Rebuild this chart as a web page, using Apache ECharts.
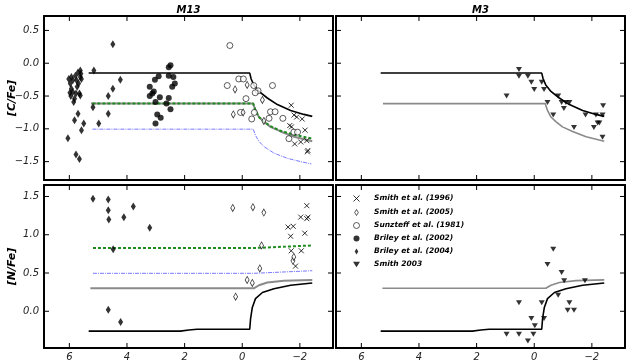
<!DOCTYPE html>
<html><head><meta charset="utf-8">
<script src="https://cdn.jsdelivr.net/npm/echarts@6/dist/echarts.min.js"></script>
<style>html,body{margin:0;padding:0;background:#fff}#c{width:631px;height:364px}</style>
</head><body><div id="c"></div>
<script>
// ---- tick values ----
const xTicks = [6, 4, 2, 0, -2];
const cTicks = [0.5, 0, -0.5, -1, -1.5];
const nTicks = [1.5, 1, 0.5, 0];
const panelTitles = ['M13', 'M3'];
const legendNames = ['Smith et al. (1996)', 'Smith et al. (2005)', 'Sunzteff et al. (1981)', 'Briley et al. (2002)', 'Briley et al. (2004)', 'Smith 2003'];

// ---- M13 [C/Fe] observations ----
const briley2004C = [[6.05,-1.145],[6.02,-0.24],[5.93,-0.21],[5.88,-0.26],[5.97,-0.31],[5.79,-0.19],[5.70,-0.14],[5.62,-0.11],[5.62,-0.21],[5.58,-0.24],[5.68,-0.31],[5.73,-0.36],[5.93,-0.39],[5.88,-0.44],[5.77,-0.46],[5.82,-0.54],[5.85,-0.59],[5.65,-0.46],[5.62,-0.49],[5.70,-0.77],[5.82,-0.87],[5.50,-0.92],[5.58,-1.02],[5.77,-1.39],[5.65,-1.46],[5.98,-0.45],[5.60,-0.16],[5.75,-0.26],[5.95,-0.50],[5.15,-0.11],[5.18,-0.67],[4.65,-0.50],[4.65,-0.77],[4.98,-0.92],[4.49,0.29],[4.23,-0.25],[4.49,-0.39]];
const briley2002C = [[2.55,-0.06],[2.49,-0.03],[2.90,-0.20],[3.03,-0.25],[2.55,-0.19],[2.39,-0.21],[2.34,-0.31],[2.43,-0.36],[3.21,-0.36],[3.07,-0.43],[3.12,-0.46],[3.21,-0.50],[2.86,-0.52],[3.01,-0.59],[2.55,-0.53],[2.63,-0.615],[2.49,-0.70],[2.95,-0.78],[2.83,-0.83],[3.01,-0.92]];
const sunzteffC = [[0.43,0.27],[0.12,-0.24],[-0.04,-0.24],[0.52,-0.34],[-0.40,-0.34],[-0.55,-0.42],[-1.05,-0.34],[-0.13,-0.54],[0.06,-0.75],[-0.42,-0.75],[-0.98,-0.74],[-1.14,-0.74],[-0.33,-0.85],[-0.93,-0.84],[-1.41,-0.84],[-1.79,-1.05],[-1.92,-1.05],[-1.62,-1.15],[-0.45,-0.45]];
const smith2005C = [[0.25,-0.40],[0.31,-0.78],[-0.17,-0.33],[-0.70,-0.56],[-0.75,-0.88],[-0.03,-0.75]];
const smith1996C = [[-1.70,-0.64],[-1.80,-0.79],[-1.89,-0.82],[-2.08,-0.85],[-1.65,-0.95],[-1.71,-0.97],[-2.18,-1.02],[-2.03,-1.20],[-1.82,-1.23],[-2.24,-1.18],[-2.26,-1.35],[-2.28,-1.33]];

// ---- M13 [N/Fe] observations ----
const briley2004N = [[5.18,1.47],[4.65,1.46],[4.65,1.32],[4.63,1.20],[4.11,1.23],[3.78,1.37],[3.21,1.09],[4.48,0.81],[4.65,0.02],[4.22,-0.14]];
const smith2005N = [[0.33,1.35],[-0.37,1.36],[-0.75,1.29],[-0.67,0.86],[-0.61,0.56],[-0.17,0.41],[-0.35,0.37],[0.23,0.19],[-1.76,0.66],[-1.79,0.71]];
const smith1996N = [[-2.24,1.38],[-2.03,1.23],[-2.24,1.21],[-2.28,1.23],[-1.59,1.10],[-1.77,1.11],[-1.68,0.98],[-2.17,1.02],[-1.70,0.79],[-2.05,0.79],[-1.85,0.59]];

// ---- M3 observations (Smith 2003) ----
const smith2003C = [[0.53,-0.095],[0.53,-0.20],[0.22,-0.20],[0.10,-0.29],[0.0,-0.40],[-0.26,-0.29],[-0.34,-0.40],[0.96,-0.50],[-0.46,-0.60],[-0.83,-0.50],[-0.66,-0.79],[-0.95,-0.60],[-1.03,-0.69],[-1.10,-0.60],[-1.22,-0.60],[-1.38,-0.98],[-1.78,-0.79],[-2.07,-0.98],[-2.14,-0.79],[-2.20,-0.91],[-2.26,-0.91],[-2.37,-0.79],[-2.39,-0.65],[-2.37,-1.13]];
const smith2003N = [[-0.66,0.81],[-0.46,0.61],[-0.95,0.505],[-1.04,0.40],[-1.76,0.40],[-0.83,0.21],[-0.26,0.11],[0.53,0.11],[-1.22,0.11],[-1.16,0.013],[-1.38,0.013],[0.10,-0.095],[-0.02,-0.19],[-0.34,-0.095],[0.96,-0.30],[0.53,-0.30],[0.03,-0.30],[0.22,-0.39]];

// ---- model curves ----
const modelCBlack = [[5.33,-0.15],[-0.26,-0.15],[-0.31,-0.24],[-0.40,-0.33],[-0.58,-0.43],[-0.87,-0.53],[-1.22,-0.63],[-1.68,-0.72],[-2.14,-0.78],[-2.43,-0.81]];
const modelCGray = [[5.25,-0.615],[-0.38,-0.615],[-0.46,-0.72],[-0.58,-0.82],[-0.75,-0.89],[-0.98,-0.97],[-1.33,-1.04],[-1.80,-1.12],[-2.43,-1.19]];
const modelCGreen = [[5.2,-0.615],[-0.38,-0.615],[-0.46,-0.72],[-0.58,-0.82],[-0.75,-0.89],[-0.98,-0.96],[-1.33,-1.03],[-1.80,-1.09],[-2.43,-1.15]];
const modelCBlue = [[5.2,-1.005],[-0.38,-1.005],[-0.46,-1.10],[-0.58,-1.19],[-0.75,-1.27],[-1.10,-1.37],[-1.57,-1.45],[-2.03,-1.50],[-2.40,-1.535]];
const modelNBlack = [[5.33,-0.26],[2.15,-0.26],[1.85,-0.245],[1.57,-0.235],[-0.26,-0.235],[-0.29,-0.095],[-0.35,0.05],[-0.46,0.165],[-0.70,0.245],[-1.10,0.295],[-1.68,0.34],[-2.43,0.37]];
const modelNGray = [[5.27,0.30],[-0.40,0.30],[-0.58,0.34],[-0.87,0.375],[-1.45,0.40],[-2.43,0.41]];
const modelNGreen = [[5.18,0.826],[-0.40,0.826],[-2.43,0.86]];
const modelNBlue = [[5.18,0.496],[-0.40,0.496],[-2.43,0.53]];

// ---- build ----
const FONT = 'DejaVu Sans';
const fmt = v => { const s = Math.abs(v) < 1e-9 ? '0' : String(v); return s.replace('-', '\u2212'); };
const fmt1 = v => { const s = (Math.abs(v) < 1e-9 ? 0 : v).toFixed(1); return s.replace('-', '\u2212'); };
const XMIN = -3.15, XMAX = 6.88;

const gridBoxes = [
  {left: 44, top: 16, width: 289, height: 164},
  {left: 336, top: 16, width: 289, height: 164},
  {left: 44, top: 185, width: 289, height: 163},
  {left: 336, top: 185, width: 289, height: 163}
];
const grids = gridBoxes.map(g => Object.assign({show: false}, g));

const boxLine = {show: true, onZero: false, lineStyle: {color: '#000', width: 2}};
const xAxes = [], yAxes = [], yRanges = [];
for (let i = 0; i < 4; i++) {
  const bottomRow = i >= 2, leftCol = i % 2 === 0;
  xAxes.push({type: 'value', gridIndex: i, position: 'bottom', inverse: true, min: XMIN, max: XMAX,
    axisLine: boxLine, splitLine: {show: false}, axisTick: {show: false},
    axisLabel: {show: bottomRow, customValues: xTicks, formatter: fmt, margin: 4, color: '#222', fontFamily: FONT, fontStyle: 'italic', fontSize: 10}});
  xAxes.push({type: 'value', gridIndex: i, position: 'top', inverse: true, min: XMIN, max: XMAX,
    name: bottomRow ? '' : panelTitles[i], nameLocation: 'middle', nameGap: 1,
    nameTextStyle: {fontFamily: FONT, fontStyle: 'italic', fontWeight: 'bold', fontSize: 10, color: '#000'},
    axisLine: boxLine, splitLine: {show: false}, axisTick: {show: false}, axisLabel: {show: false}});
  const yt = bottomRow ? nTicks : cTicks;
  const ymin = bottomRow ? -0.48 : -1.78, ymax = bottomRow ? 1.65 : 0.72;
  yRanges.push([ymin, ymax]);
  yAxes.push({type: 'value', gridIndex: i, position: 'left', min: ymin, max: ymax,
    name: leftCol ? (bottomRow ? '[N/Fe]' : '[C/Fe]') : '', nameLocation: 'middle', nameGap: 26, nameMoveOverlap: false,
    nameTextStyle: {fontFamily: FONT, fontStyle: 'italic', fontWeight: 'bold', fontSize: 11, color: '#000'},
    axisLine: boxLine, splitLine: {show: false}, axisTick: {show: false},
    axisLabel: {show: leftCol, customValues: yt, formatter: fmt1, margin: 5, color: '#222', fontFamily: FONT, fontStyle: 'italic', fontSize: 10}});
  yAxes.push({type: 'value', gridIndex: i, position: 'right', min: ymin, max: ymax,
    axisLine: boxLine, splitLine: {show: false}, axisTick: {show: false}, axisLabel: {show: false}});
}

const SYM = {
  cross: 'path://M0,0L10,10M10,0L0,10',
  thinDiamond: 'path://M3,0L6,5L3,10L0,5Z',
  triDown: 'path://M0,0L10,0L5,8Z'
};
const styles = {
  'Smith et al. (1996)': {symbol: SYM.cross, symbolSize: 5, itemStyle: {color: 'none', borderColor: '#000', borderWidth: 1}},
  'Smith et al. (2005)': {symbol: SYM.thinDiamond, symbolSize: [4, 7], itemStyle: {color: '#fff', borderColor: '#000', borderWidth: 0.8}},
  'Sunzteff et al. (1981)': {symbol: 'circle', symbolSize: 6, itemStyle: {color: '#fff', borderColor: '#000', borderWidth: 0.8}},
  'Briley et al. (2002)': {symbol: 'circle', symbolSize: 6, itemStyle: {color: '#000'}},
  'Briley et al. (2004)': {symbol: SYM.thinDiamond, symbolSize: [5, 8], itemStyle: {color: '#000'}},
  'Smith 2003': {symbol: SYM.triDown, symbolSize: [6, 5], itemStyle: {color: '#000'}}
};
function scatter(name, data, gi) {
  return Object.assign({type: 'scatter', name, data, xAxisIndex: gi * 2, yAxisIndex: gi * 2, z: 5}, styles[name]);
}
function line(data, gi, color, width, type, z) {
  return {type: 'line', data, xAxisIndex: gi * 2, yAxisIndex: gi * 2, showSymbol: false, symbol: 'none', silent: true, z: z || 3,
    lineStyle: {color, width, type: type || 'solid'}};
}

// inside tick marks on all four sides: short segments from the tick arrays, mapped by the axes' scales
const TL = 5;
function tickLines(gi) {
  const [ymin, ymax] = yRanges[gi];
  const dy = TL / gridBoxes[gi].height * (ymax - ymin);
  const dx = TL / gridBoxes[gi].width * (XMAX - XMIN);
  const yt = gi >= 2 ? nTicks : cTicks;
  const out = [];
  xTicks.forEach(v => {
    out.push(line([[v, ymin], [v, ymin + dy]], gi, '#000', 1, 'solid', 10));
    out.push(line([[v, ymax], [v, ymax - dy]], gi, '#000', 1, 'solid', 10));
  });
  yt.forEach(v => {
    out.push(line([[XMAX, v], [XMAX - dx, v]], gi, '#000', 1, 'solid', 10));
    out.push(line([[XMIN, v], [XMIN + dx, v]], gi, '#000', 1, 'solid', 10));
  });
  return out;
}

const GREEN = '#1e8c1e', GRAY = '#8a8a8a', BLUE = '#7a7aff';
const series = [
  line(modelCGray, 0, GRAY, 2),
  line(modelCBlack, 0, '#000', 1.6),
  line(modelCGreen, 0, GREEN, 2, [3, 2], 4),
  line(modelCBlue, 0, BLUE, 1, [4, 1, 1, 1], 4),
  scatter('Briley et al. (2004)', briley2004C, 0),
  scatter('Briley et al. (2002)', briley2002C, 0),
  scatter('Sunzteff et al. (1981)', sunzteffC, 0),
  scatter('Smith et al. (2005)', smith2005C, 0),
  scatter('Smith et al. (1996)', smith1996C, 0),
  line(modelCBlack, 1, '#000', 1.6),
  line(modelCGray, 1, GRAY, 1.6),
  scatter('Smith 2003', smith2003C, 1),
  line(modelNBlack, 2, '#000', 1.6),
  line(modelNGray, 2, GRAY, 2),
  line(modelNGreen, 2, GREEN, 2, [3, 2], 4),
  line(modelNBlue, 2, BLUE, 1, [4, 1, 1, 1], 4),
  scatter('Briley et al. (2004)', briley2004N, 2),
  scatter('Smith et al. (2005)', smith2005N, 2),
  scatter('Smith et al. (1996)', smith1996N, 2),
  line(modelNBlack, 3, '#000', 1.6),
  line(modelNGray, 3, GRAY, 1.6),
  scatter('Smith 2003', smith2003N, 3)
];
for (let g = 0; g < 4; g++) series.push(...tickLines(g));

const chart = echarts.init(document.getElementById('c'), null, {renderer: 'canvas'});
chart.setOption({
  animation: false,
  backgroundColor: '#fff',
  grid: grids,
  xAxis: xAxes,
  yAxis: yAxes,
  legend: {
    orient: 'vertical', left: 346, top: 188, itemWidth: 7, itemHeight: 6, itemGap: 4,
    selectedMode: false,
    textStyle: {fontFamily: FONT, fontStyle: 'italic', fontWeight: 'bold', fontSize: 7.5, lineHeight: 9, color: '#000', padding: [0, 0, 0, 9]},
    data: legendNames.map(n => ({name: n, icon: styles[n].symbol, itemStyle: styles[n].itemStyle}))
  },
  series
});
</script></body></html>
